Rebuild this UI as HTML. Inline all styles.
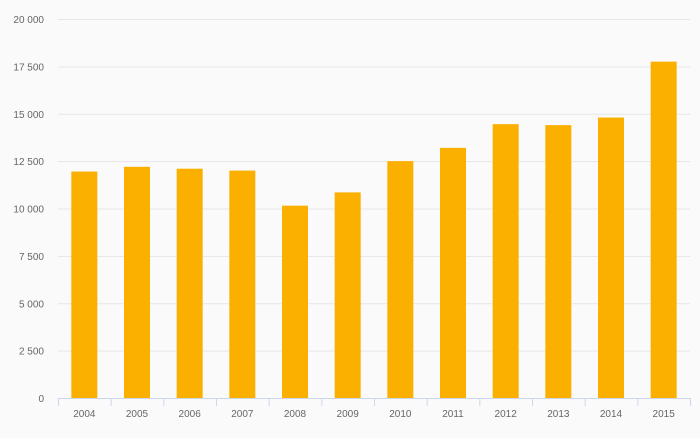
<!DOCTYPE html>
<html><head><meta charset="utf-8"><style>
body{margin:0;background:#fafafa;font-family:"Liberation Sans",sans-serif}
svg text{font-family:"Liberation Sans",sans-serif;font-size:10px;fill:#666}
</style></head><body>
<svg id="chart" width="700" height="433" xmlns="http://www.w3.org/2000/svg">
<rect width="700" height="433" fill="#fafafa"/>
<g id="grid"></g><g id="bars"></g><g id="xaxis"></g>
</svg>
<script>
const categories=["2004","2005","2006","2007","2008","2009","2010","2011","2012","2013","2014","2015"];
const values=[11950,12200,12100,12000,10150,10850,12500,13200,14450,14400,14800,17750];
const yTicks=[0,2500,5000,7500,10000,12500,15000,17500,20000];
const yTickLabels=["0","2 500","5 000","7 500","10 000","12 500","15 000","17 500","20 000"];
const NS="http://www.w3.org/2000/svg";
const x0=58,x1=690,yBase=398,yTop=19,yMax=20000;
const y=v=>yBase-(v/yMax)*(yBase-yTop);
const step=(x1-x0)/categories.length;
const xc=i=>x0+step*(i+0.5);
function mk(t,a,p){const e=document.createElementNS(NS,t);for(const k in a)e.setAttribute(k,a[k]);p.appendChild(e);return e;}
const grid=document.getElementById('grid'),bars=document.getElementById('bars'),xa=document.getElementById('xaxis');
yTicks.forEach((v,i)=>{
 const l=mk('line',{x1:x0,x2:x1,y1:y(v)+0.5,y2:y(v)+0.5,stroke:'#e6e6e6'},grid);
 
 
 const t=mk('text',{x:44,y:y(v)+4,'text-anchor':'end'},grid);t.textContent=yTickLabels[i];
 
 
});
mk('line',{x1:x0,x2:x1,y1:yBase+0.5,y2:yBase+0.5,stroke:'#ccd6eb'},xa);
for(let i=0;i<=categories.length;i++){mk('line',{x1:x0+step*i+0.5,x2:x0+step*i+0.5,y1:yBase,y2:yBase+8,stroke:'#ccd6eb'},xa);}
categories.forEach((c,i)=>{
 const r=mk('rect',{x:xc(i)-13,y:y(values[i]),width:26,height:yBase-y(values[i]),fill:'#fbb000'},bars);
 
 
 const t=mk('text',{x:xc(i),y:417,'text-anchor':'middle'},xa);t.textContent=c;
 
 
});
</script>
</body></html>
